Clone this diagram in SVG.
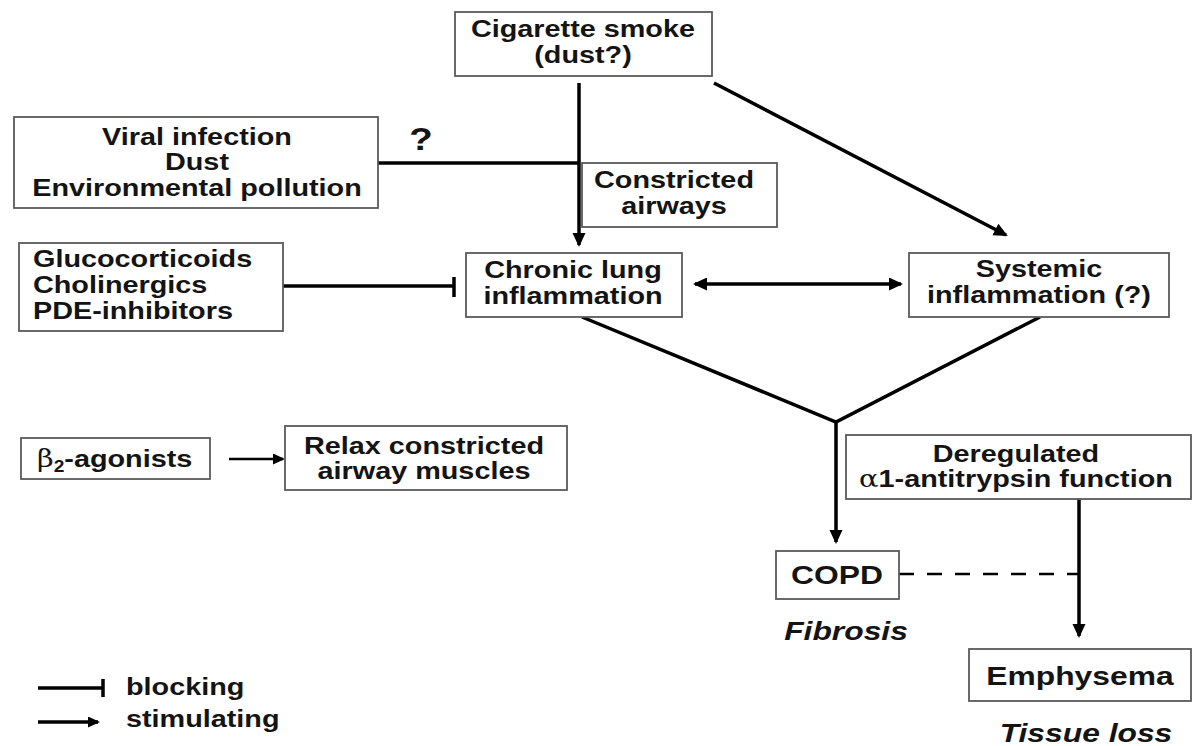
<svg xmlns="http://www.w3.org/2000/svg" width="1193" height="746" viewBox="0 0 1193 746">
<defs>
<style>
.box { fill: #fff; stroke: #5a5a5a; stroke-width: 1.8; }
.t { font-family: "Liberation Sans", Arial, Helvetica, sans-serif; font-weight: bold; font-size: 24px; fill: #141414; text-anchor: middle; transform-box: fill-box; transform-origin: 50% 50%; transform: scaleX(1.2); }
.tl { text-anchor: start; transform-origin: 0% 50%; }
.big { font-size: 26.5px; }
.it { font-style: italic; }
.sym { font-family: "DejaVu Serif", "Liberation Serif", serif; font-weight: normal; }
.ln { stroke: #000; stroke-width: 3.5; fill: none; }
.thin { stroke-width: 2.6; }
.dash { stroke-width: 2.6; stroke-dasharray: 15 13; }
</style>
<marker id="arr" markerUnits="userSpaceOnUse" markerWidth="16" markerHeight="16" refX="12" refY="6.5" orient="auto">
<path d="M0,0 L14,6.5 L0,13 z" fill="#000"/>
</marker>
<marker id="arrS" markerUnits="userSpaceOnUse" markerWidth="16" markerHeight="16" refX="10" refY="5.5" orient="auto">
<path d="M0,0 L12,5.5 L0,11 z" fill="#000"/>
</marker>
<marker id="arrStart" markerUnits="userSpaceOnUse" markerWidth="16" markerHeight="16" refX="2" refY="6.5" orient="auto">
<path d="M14,0 L0,6.5 L14,13 z" fill="#000"/>
</marker>
</defs>
<rect width="1193" height="746" fill="#fff"/>

<g id="connectors">
<line class="ln" x1="579" y1="83" x2="579" y2="245" marker-end="url(#arr)"/>
<line class="ln" x1="378" y1="163" x2="579" y2="163"/>
<line class="ln" x1="714" y1="83" x2="1006" y2="235" marker-end="url(#arr)"/>
<line class="ln" x1="283" y1="286" x2="453" y2="286"/>
<line class="ln" x1="454" y1="277" x2="454" y2="297" stroke-width="4"/>
<line class="ln" x1="695" y1="284" x2="901" y2="284" marker-start="url(#arrStart)" marker-end="url(#arr)"/>
<polyline class="ln" points="582,317 836,422 1040,317"/>
<line class="ln" x1="836" y1="422" x2="836" y2="542" marker-end="url(#arr)"/>
<line class="ln thin" x1="229" y1="459" x2="283" y2="459" marker-end="url(#arrS)"/>
<line class="ln" x1="1079" y1="499" x2="1079" y2="636" marker-end="url(#arr)"/>
<line class="ln dash" x1="899" y1="574" x2="1078" y2="574"/>
</g>

<g id="cigarette">
<rect class="box" x="455" y="12" width="257" height="64"/>
<text class="t" x="583" y="37">Cigarette smoke</text>
<text class="t" x="583" y="63">(dust?)</text>
</g>

<g id="viral">
<rect class="box" x="14" y="117" width="364" height="91"/>
<text class="t" x="197" y="145">Viral infection</text>
<text class="t" x="197" y="170">Dust</text>
<text class="t" x="197" y="196">Environmental pollution</text>
</g>

<g id="question">
<text class="t" x="421" y="150" style="font-size:32px">?</text>
</g>

<g id="constricted">
<rect class="box" x="582" y="163" width="195" height="64"/>
<text class="t" x="674" y="188">Constricted</text>
<text class="t" x="674" y="214">airways</text>
</g>

<g id="drugs">
<rect class="box" x="19" y="243" width="264" height="88"/>
<text class="t tl" x="33" y="267">Glucocorticoids</text>
<text class="t tl" x="33" y="293">Cholinergics</text>
<text class="t tl" x="33" y="319">PDE-inhibitors</text>
</g>

<g id="chronic">
<rect class="box" x="466" y="253" width="216" height="64"/>
<text class="t" x="573" y="278">Chronic lung</text>
<text class="t" x="573" y="304">inflammation</text>
</g>

<g id="systemic">
<rect class="box" x="909" y="253" width="260" height="64"/>
<text class="t" x="1039" y="277">Systemic</text>
<text class="t" x="1039" y="303">inflammation (?)</text>
</g>

<g id="beta2">
<rect class="box" x="21" y="438" width="189" height="41"/>
<text class="t tl" x="37" y="467"><tspan class="sym">β</tspan><tspan font-size="16" dy="5">2</tspan><tspan dy="-5">-agonists</tspan></text>
</g>

<g id="relax">
<rect class="box" x="285" y="426" width="282" height="64"/>
<text class="t" x="424" y="454">Relax constricted</text>
<text class="t" x="424" y="479">airway muscles</text>
</g>

<g id="deregulated">
<rect class="box" x="846" y="435" width="345" height="64"/>
<text class="t" x="1016" y="462">Deregulated</text>
<text class="t" x="1016" y="487"><tspan class="sym">α</tspan>1-antitrypsin function</text>
</g>

<g id="copd">
<rect class="box" x="776" y="551" width="123" height="48"/>
<text class="t big" x="837" y="584">COPD</text>
<text class="t big it" x="846" y="640">Fibrosis</text>
</g>

<g id="emphysema">
<rect class="box" x="969" y="649" width="222" height="52"/>
<text class="t big" x="1080" y="685">Emphysema</text>
<text class="t big it" x="1086" y="742">Tissue loss</text>
</g>

<g id="legend">
<line class="ln" x1="38" y1="688" x2="102" y2="688"/>
<line class="ln" x1="103" y1="679" x2="103" y2="697" stroke-width="3.5"/>
<text class="t tl" x="126" y="695">blocking</text>
<line class="ln" x1="38" y1="722" x2="98" y2="722" marker-end="url(#arrS)"/>
<text class="t tl" x="126" y="727">stimulating</text>
</g>
</svg>
